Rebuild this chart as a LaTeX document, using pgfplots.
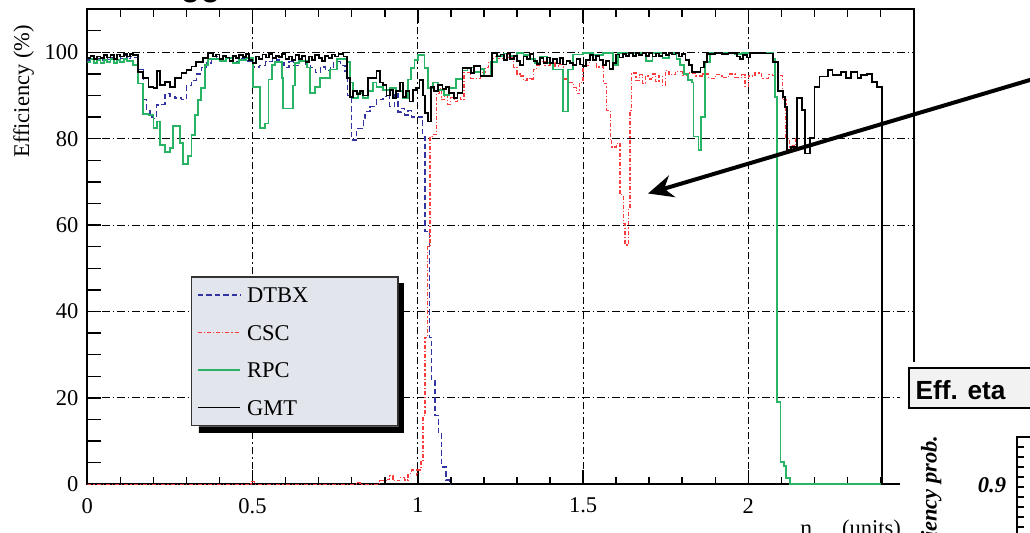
\documentclass[border=0pt]{standalone}
\usepackage{fontspec}
\setmainfont{Liberation Serif}
\newfontfamily\sansfont{Liberation Sans}
\usepackage{pgfplots}
\pgfplotsset{compat=1.18}
\usetikzlibrary{arrows.meta}
\definecolor{dtbx}{RGB}{50,50,160}
\definecolor{csc}{RGB}{250,60,60}
\definecolor{rpc}{RGB}{40,180,100}
\definecolor{legfill}{RGB}{226,229,235}
\begin{document}
\begin{tikzpicture}
\begin{axis}[
  at={(0,0)}, anchor=south west,
  scale only axis, width=330.5pt, height=190.08pt,
  xmin=0, xmax=2.5, ymin=0, ymax=110,
  xtick={0,0.5,1,1.5,2,2.5}, xticklabels={0,0.5,1,1.5,2,2.5},
  ytick={0,20,40,60,80,100}, yticklabels={0,20,40,60,80,100},
  minor x tick num=4,
  extra y ticks={5,10,15,25,30,35,45,50,55,65,70,75,85,90,95,105},
  extra y tick labels={},
  extra y tick style={grid=none},
  xtick pos=both, ytick pos=left,
  tick align=inside,
  major tick length=5.6pt, minor tick length=3pt,
  grid=major,
  major grid style={black, line width=0.4pt, dash pattern=on 3pt off 1.2pt on 0.6pt off 1.2pt},
  axis line style={line width=0.8pt},
  tick style={line width=0.6pt, black},
  tick label style={font=\fontsize{9}{10}\selectfont},
  xticklabel style={yshift=-2pt},
  ylabel={Efficiency (\%)},
  ylabel style={at={(axis description cs:-0.077,0.827)}, anchor=center, font=\fontsize{9}{10}\selectfont},
  xlabel={η\hspace{12pt}(units)},
  xlabel style={at={(axis description cs:0.8625,-0.1067)}, anchor=base west, inner sep=0pt, font=\fontsize{9}{10}\selectfont},
  no markers,
  legend cell align=left,
  legend style={name=legbox, at={(axis cs:0.3137,48.16)}, anchor=north west, fill=legfill, draw=black!80, line width=0.6pt,
    inner xsep=2pt, inner ysep=3.2pt, row sep=7pt, font=\fontsize{9}{10}\selectfont,
    nodes={inner xsep=2.4pt, inner ysep=0pt, text height=7pt, text depth=1pt, text width=56pt}},
]
\addplot[dtbx, line width=0.5pt, dash pattern=on 2.2pt off 1.2pt, const plot] coordinates {
(0.000,98.2) (0.010,98.8) (0.020,98.0) (0.030,98.6) (0.040,98.2) (0.050,99.0) (0.060,98.3) (0.070,98.8) (0.080,98.0) (0.090,99.0) (0.100,98.5) (0.110,99.2) (0.120,98.5) (0.130,99.0) (0.139,98.8) (0.154,96.0) (0.169,89.0) (0.180,86.5) (0.190,85.0) (0.200,84.7) (0.210,87.8) (0.220,88.0) (0.235,90.4) (0.250,89.8) (0.265,89.4) (0.285,89.0) (0.300,92.4) (0.315,93.5) (0.330,95.0) (0.345,96.5) (0.360,97.5) (0.375,98.5) (0.390,99.0) (0.400,98.2) (0.420,98.8) (0.440,97.8) (0.460,98.6) (0.480,98.0) (0.500,96.6) (0.520,97.0) (0.540,97.8) (0.560,98.2) (0.580,97.5) (0.595,96.5) (0.610,97.8) (0.625,97.0) (0.640,98.0) (0.660,97.2) (0.675,96.4) (0.690,95.3) (0.705,96.6) (0.720,95.8) (0.735,96.6) (0.745,97.8) (0.765,97.0) (0.780,95.5) (0.788,90.0) (0.800,79.7) (0.815,82.4) (0.835,84.6) (0.840,86.3) (0.855,87.4) (0.875,89.0) (0.895,89.7) (0.905,90.5) (0.915,87.4) (0.930,90.5) (0.940,86.2) (0.950,87.0) (0.960,85.5) (0.970,86.5) (0.980,85.0) (1.000,85.0) (1.015,80.5) (1.022,58.5) (1.035,34.0) (1.042,24.0) (1.052,16.0) (1.062,12.0) (1.072,4.0) (1.085,1.0) (1.095,0) (1.100,0)
};
\addlegendentry{DTBX}
\addplot[csc, line width=0.5pt, dash pattern=on 1.6pt off 0.8pt on 0.5pt off 0.8pt, const plot] coordinates {
(0.000,0) (0.495,0.6) (0.505,0) (0.815,0.5) (0.825,0) (0.885,0.8) (0.905,1.2) (0.915,2.0) (0.925,0.8) (0.945,1.5) (0.960,1.0) (0.970,2.5) (0.980,3.3) (0.995,2.0) (1.000,3.3) (1.010,5.2) (1.016,16.0) (1.022,34.0) (1.030,55.0) (1.037,80.5) (1.043,81.0) (1.057,90.5) (1.065,91.5) (1.072,89.0) (1.080,90.0) (1.090,88.0) (1.100,89.5) (1.110,88.6) (1.120,89.6) (1.130,89.0) (1.140,95.4) (1.160,94.0) (1.190,95.4) (1.205,96.5) (1.215,97.7) (1.230,99.0) (1.245,98.5) (1.260,99.7) (1.275,98.8) (1.290,96.5) (1.300,95.0) (1.310,94.5) (1.320,93.5) (1.330,94.0) (1.340,93.8) (1.350,96.0) (1.360,97.0) (1.370,97.8) (1.385,97.0) (1.400,97.5) (1.415,96.8) (1.430,97.2) (1.440,93.8) (1.455,93.0) (1.470,91.8) (1.480,90.5) (1.490,93.0) (1.500,97.0) (1.520,99.2) (1.540,96.6) (1.562,92.8) (1.572,86.6) (1.582,79.7) (1.587,78.1) (1.602,78.9) (1.612,67.0) (1.622,60.4) (1.627,55.4) (1.637,64.0) (1.642,86.6) (1.647,95.2) (1.660,93.5) (1.670,94.8) (1.680,92.8) (1.690,94.5) (1.700,93.8) (1.710,95.0) (1.720,93.2) (1.730,94.6) (1.740,92.4) (1.750,95.8) (1.760,94.8) (1.780,95.5) (1.800,94.6) (1.820,95.2) (1.840,94.5) (1.860,95.0) (1.880,94.0) (1.900,94.8) (1.920,94.2) (1.940,95.0) (1.960,94.2) (1.980,94.8) (1.990,92.0) (2.000,94.5) (2.020,95.2) (2.040,94.0) (2.060,94.8) (2.074,94.7) (2.104,89.0) (2.114,80.0) (2.124,78.1) (2.134,78.4) (2.144,80.1) (2.150,80.1)
};
\addlegendentry{CSC}
\addplot[rpc, line width=0.7pt, const plot] coordinates {
(0.000,97.8) (0.010,98.4) (0.020,97.6) (0.030,98.2) (0.040,97.5) (0.050,98.3) (0.060,97.8) (0.070,98.5) (0.080,97.6) (0.090,98.2) (0.100,97.8) (0.110,98.5) (0.120,98.0) (0.139,97.0) (0.154,92.8) (0.169,85.8) (0.185,85.5) (0.200,82.5) (0.210,84.0) (0.220,78.5) (0.235,77.0) (0.250,77.8) (0.260,83.0) (0.280,79.0) (0.290,74.2) (0.305,76.0) (0.315,80.8) (0.325,85.5) (0.335,89.0) (0.345,91.7) (0.355,97.0) (0.365,98.5) (0.400,98.0) (0.420,98.6) (0.440,97.6) (0.460,98.2) (0.480,98.6) (0.502,92.0) (0.522,82.4) (0.538,83.5) (0.548,93.7) (0.558,97.0) (0.568,97.7) (0.588,94.0) (0.593,87.0) (0.623,92.3) (0.628,97.5) (0.640,98.0) (0.665,96.5) (0.674,90.5) (0.689,92.0) (0.704,94.0) (0.734,96.0) (0.755,98.4) (0.785,97.8) (0.795,93.0) (0.805,89.5) (0.820,90.5) (0.835,89.5) (0.850,91.0) (0.865,93.0) (0.875,92.0) (0.895,91.3) (0.915,91.7) (0.935,91.0) (0.955,89.5) (0.970,93.7) (0.980,96.4) (0.990,98.3) (1.000,99.4) (1.020,96.4) (1.030,91.7) (1.045,93.0) (1.060,91.3) (1.080,90.1) (1.095,91.7) (1.115,93.9) (1.135,95.8) (1.150,96.5) (1.170,95.5) (1.190,96.2) (1.200,94.6) (1.220,97.7) (1.240,99.2) (1.260,99.7) (1.280,99.2) (1.300,99.8) (1.320,99.4) (1.340,98.5) (1.355,97.5) (1.370,99.0) (1.390,97.5) (1.410,96.0) (1.440,86.3) (1.455,96.0) (1.470,99.5) (1.500,99.8) (1.530,99.4) (1.560,99.8) (1.590,97.0) (1.605,99.8) (1.690,98.0) (1.710,99.8) (1.740,98.7) (1.760,99.8) (1.783,98.5) (1.793,97.0) (1.805,95.0) (1.817,93.5) (1.829,93.0) (1.834,80.5) (1.849,77.4) (1.856,85.0) (1.869,97.7) (1.884,99.9) (1.960,99.6) (1.980,99.9) (2.075,98.5) (2.080,89.7) (2.087,19.0) (2.097,5.2) (2.107,4.3) (2.115,1.5) (2.125,0) (2.400,0)
};
\addlegendentry{RPC}
\addplot[black, line width=0.7pt, const plot] coordinates {
(0.000,98.6) (0.010,99.2) (0.020,98.4) (0.030,99.0) (0.040,98.6) (0.050,99.4) (0.060,98.8) (0.070,99.3) (0.080,98.5) (0.090,99.5) (0.100,99.0) (0.110,99.6) (0.120,99.0) (0.130,99.6) (0.139,99.4) (0.154,95.5) (0.169,94.0) (0.185,92.0) (0.200,91.7) (0.210,95.7) (0.220,92.4) (0.235,93.2) (0.250,92.0) (0.265,94.0) (0.285,95.2) (0.300,95.9) (0.315,96.7) (0.330,97.8) (0.350,98.6) (0.365,99.8) (0.380,99.0) (0.390,99.5) (0.400,98.5) (0.410,99.2) (0.420,98.8) (0.430,98.0) (0.440,99.2) (0.450,98.6) (0.460,99.4) (0.470,98.9) (0.480,99.6) (0.490,98.3) (0.500,97.6) (0.510,99.0) (0.520,98.5) (0.530,99.5) (0.540,98.8) (0.550,99.6) (0.560,98.6) (0.570,99.2) (0.580,98.9) (0.590,99.6) (0.600,98.4) (0.610,99.0) (0.620,98.2) (0.630,99.3) (0.640,98.5) (0.650,99.2) (0.660,97.8) (0.670,99.0) (0.680,98.2) (0.690,99.4) (0.700,98.6) (0.710,98.0) (0.720,99.2) (0.730,98.6) (0.740,99.5) (0.750,99.0) (0.760,99.6) (0.775,99.0) (0.785,94.0) (0.795,89.7) (0.805,91.0) (0.815,90.3) (0.825,91.0) (0.835,90.0) (0.850,94.0) (0.865,94.0) (0.875,95.7) (0.885,93.0) (0.895,92.5) (0.905,90.0) (0.915,91.3) (0.925,89.5) (0.935,91.0) (0.945,93.0) (0.955,89.7) (0.965,91.0) (0.975,88.6) (0.985,91.3) (0.995,91.8) (1.005,93.6) (1.015,90.0) (1.022,85.9) (1.030,84.0) (1.040,92.0) (1.050,91.0) (1.060,92.5) (1.075,91.5) (1.085,92.0) (1.095,90.5) (1.110,89.5) (1.120,90.5) (1.135,96.4) (1.160,95.2) (1.170,96.9) (1.190,94.5) (1.225,99.8) (1.240,99.0) (1.250,99.5) (1.260,98.2) (1.270,99.7) (1.280,98.4) (1.290,99.2) (1.300,98.0) (1.310,97.0) (1.320,99.0) (1.330,98.4) (1.340,99.6) (1.350,98.0) (1.360,97.3) (1.370,98.6) (1.380,97.6) (1.390,98.8) (1.400,97.5) (1.410,98.4) (1.420,97.4) (1.430,98.6) (1.440,97.2) (1.450,98.0) (1.460,97.5) (1.470,97.0) (1.480,98.4) (1.490,97.2) (1.500,96.8) (1.510,98.2) (1.520,99.4) (1.530,98.3) (1.540,99.2) (1.550,98.3) (1.560,97.0) (1.570,98.0) (1.580,96.2) (1.590,97.6) (1.600,99.5) (1.610,98.8) (1.620,99.6) (1.630,99.1) (1.640,99.8) (1.650,99.2) (1.660,99.8) (1.670,99.4) (1.680,99.8) (1.690,99.2) (1.700,99.8) (1.710,99.0) (1.720,99.7) (1.730,99.2) (1.740,99.8) (1.750,99.3) (1.760,99.8) (1.770,99.5) (1.780,99.9) (1.790,99.0) (1.800,99.6) (1.810,98.2) (1.820,97.0) (1.830,95.5) (1.845,95.5) (1.855,96.5) (1.865,97.8) (1.875,99.6) (1.900,99.9) (1.920,99.6) (1.940,99.9) (1.965,99.0) (1.975,98.4) (1.985,99.3) (1.995,98.8) (2.005,99.8) (2.030,99.9) (2.050,99.7) (2.074,97.8) (2.090,91.0) (2.104,89.7) (2.110,87.4) (2.116,77.4) (2.130,78.1) (2.147,89.4) (2.162,86.6) (2.172,76.6) (2.187,80.1) (2.200,92.0) (2.215,94.4) (2.240,95.9) (2.255,94.7) (2.280,95.5) (2.295,94.0) (2.310,95.5) (2.330,94.0) (2.340,94.7) (2.360,95.0) (2.375,93.2) (2.390,92.0) (2.405,0) (2.500,0)
};
\addlegendentry{GMT}
\end{axis}
\fill[black] ([yshift=-2.8pt]legbox.north east) -- ([xshift=2pt,yshift=-2.8pt]legbox.north east)
  -- ([xshift=2pt,yshift=-2.6pt]legbox.south east) -- ([xshift=3.2pt,yshift=-2.6pt]legbox.south west)
  -- ([xshift=3.2pt]legbox.south west) -- (legbox.south east) -- cycle;
\begin{scope}[shift={(-34.92pt,193.72pt)}, x=0.4pt, y=-0.4pt]
  \fill[white] (900,362) rectangle (1040,540);
  \draw[line width=0.6pt, fill=black!5] (909,368) rectangle (1040,408);
  \node[anchor=base west, font=\sansfont\bfseries\fontsize{10.5}{12}\selectfont, inner sep=0pt] at (915,400) {Eff. eta};
  \node[rotate=90, anchor=east, font=\bfseries\itshape\fontsize{9}{10}\selectfont, inner sep=0pt] at (931,435) {Efficiency prob.};
  \node[font=\bfseries\itshape\fontsize{9}{10}\selectfont, inner sep=0pt] at (992,485) {0.9};
  \draw[line width=0.6pt] (1040,437) -- (1017,437) -- (1017,540);
  \foreach \t in {447,457,...,537} \draw[line width=0.5pt] (1017,\t) -- (1024,\t);
  \node[anchor=base west, font=\sansfont\fontsize{14.4}{16}\selectfont, inner sep=0pt] at (180,-4) {gg};
  \draw[line width=1.6pt, -{Stealth[length=10pt,width=9pt]}] (1040,77) -- (648,193.5);
  \coordinate (BBa) at (0,532);
  \coordinate (BBb) at (1030,0);
\end{scope}
\pgfresetboundingbox
\path[use as bounding box] (BBa) rectangle (BBb);
\end{tikzpicture}
\end{document}
